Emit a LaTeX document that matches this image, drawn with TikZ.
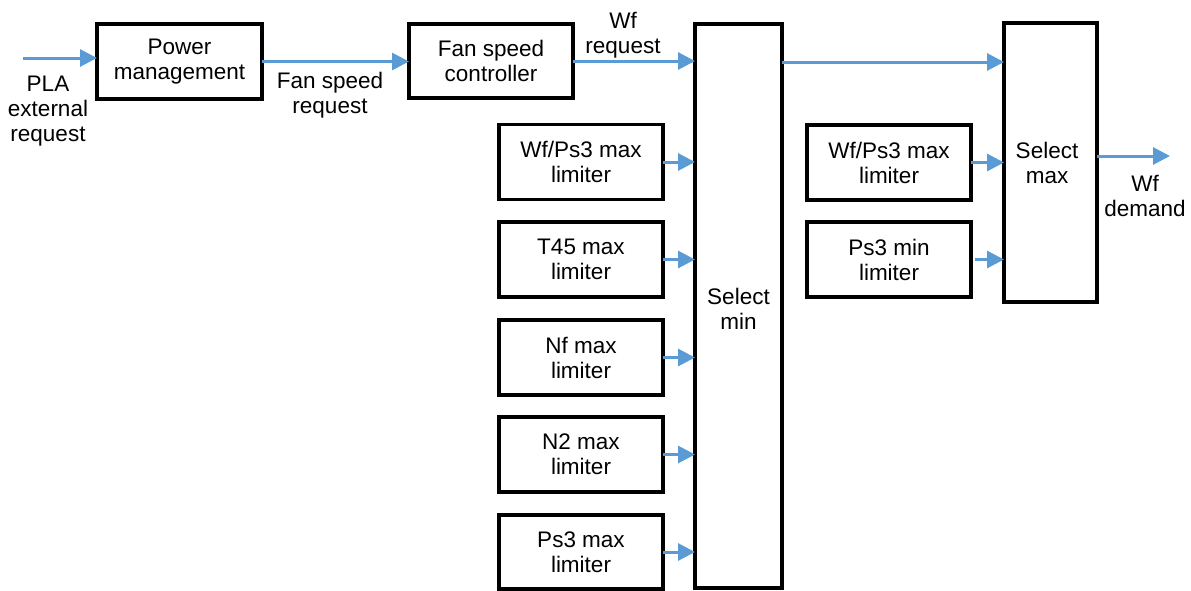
\documentclass[tikz,border=0pt]{standalone}
\usepackage{fontspec}
\setmainfont{Liberation Sans}
\usetikzlibrary{arrows.meta}
\definecolor{arrowblue}{HTML}{5B9BD5}
\begin{document}
\begin{tikzpicture}[x=1pt,y=-1pt,
  every node/.style={font=\fontsize{22.5}{25}\selectfont, align=center, inner sep=0pt, outer sep=0pt},
  blockbox/.style={draw=black, line width=3.2pt, minimum width=164pt, minimum height=75pt},
  flow/.style={draw=arrowblue, line width=3pt, -{Triangle[length=17pt,width=17pt]}},
  lbl/.style={text=black}]
\useasboundingbox (0,0) rectangle (1191,590);
% blocks
\node[blockbox, minimum width=165pt] (pm) at (179.5,61.5) {Power\\management};
\node[blockbox, minimum height=74pt] (fsc) at (491,61) {Fan speed\\controller};
\node[blockbox, minimum width=87pt, minimum height=564pt] (smin) at (738.5,306) {};
\node[lbl] (smintxt) at (738.5,308.5) {Select\\min};
\node[blockbox, minimum width=93pt, minimum height=279pt] (smax) at (1050.5,162.5) {};
\node[lbl] (smaxtxt) at (1047,162.5) {Select\\max};
\node[blockbox] (l1) at (581,162) {Wf/Ps3 max\\limiter};
\node[blockbox] (l2) at (581,259.5) {T45 max\\limiter};
\node[blockbox] (l3) at (581,357.5) {Nf max\\limiter};
\node[blockbox] (l4) at (581,454.5) {N2 max\\limiter};
\node[blockbox, minimum height=74pt] (l5) at (581,552) {Ps3 max\\limiter};
\node[blockbox] (r1) at (889,162.5) {Wf/Ps3 max\\limiter};
\node[blockbox] (r2) at (889,259.5) {Ps3 min\\limiter};
% labels
\node[lbl] (plalbl) at (48,111) {PLA\\external\\request};
\node[lbl] (fsrlbl) at (330,95) {Fan speed\\request};
\node[lbl] (wfrlbl) at (623,35) {Wf\\request};
\node[lbl] (wfdlbl) at (1145,195.5) {Wf\\demand};
% free ends
\coordinate (inp) at (23,58);
\coordinate (outp) at (1170,156);
% connectors
\draw[flow] (inp) -- (inp -| pm.west);
\draw[flow] (pm.east) -- (pm.east -| fsc.west);
\draw[flow] (fsc.east) -- (fsc.east -| smin.west);
\draw[flow] ([yshift=-1pt]fsc.east -| smin.east) -- ([yshift=-1pt]fsc.east -| smax.west);
\draw[flow] (l1.east) -- (l1.east -| smin.west);
\draw[flow] (l2.east) -- (l2.east -| smin.west);
\draw[flow] (l3.east) -- (l3.east -| smin.west);
\draw[flow] (l4.east) -- (l4.east -| smin.west);
\draw[flow] (l5.east) -- (l5.east -| smin.west);
\draw[flow] (r1.east) -- (r1.east -| smax.west);
\draw[flow] ([xshift=4pt]r2.east) -- (r2.east -| smax.west);
\draw[flow] (outp -| smax.east) -- (outp);
\end{tikzpicture}
\end{document}
